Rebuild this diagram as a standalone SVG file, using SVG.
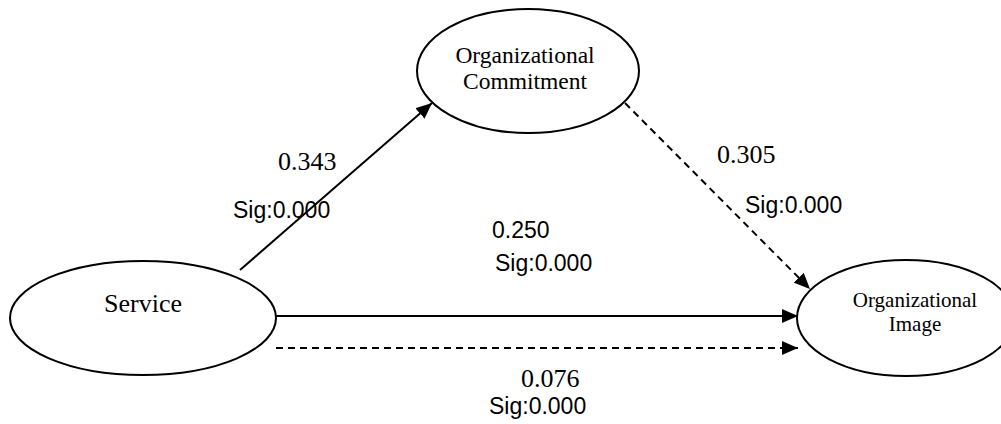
<svg xmlns="http://www.w3.org/2000/svg" width="1001" height="424" viewBox="0 0 1001 424">
  <style>
    .node { fill: #ffffff; stroke: #000000; stroke-width: 2; }
    .serif { font-family: "Liberation Serif", "Times New Roman", serif; fill: #000000; }
    .sans { font-family: "Liberation Sans", Arial, sans-serif; fill: #000000; font-size: 23px; }
    .edge { fill: none; stroke: #000000; stroke-width: 2; }
    .dashed { stroke-dasharray: 7 5; }
  </style>
  <defs>
    <marker id="arrow" markerUnits="userSpaceOnUse" markerWidth="16" markerHeight="14" viewBox="0 0 16 14" refX="16" refY="7" orient="auto">
      <path d="M0,0 L16,7 L0,14 Z" fill="#000000"/>
    </marker>
  </defs>

  <rect width="1001" height="424" fill="#ffffff"/>

  <!-- paths between the constructs -->
  <g id="connectors">
    <line class="edge" x1="240" y1="270" x2="432" y2="103" marker-end="url(#arrow)"/>
    <line class="edge dashed" x1="625" y1="103" x2="810" y2="289" marker-end="url(#arrow)"/>
    <line class="edge" x1="276" y1="316" x2="798" y2="316" marker-end="url(#arrow)"/>
    <line class="edge dashed" x1="276" y1="348" x2="798" y2="348" marker-end="url(#arrow)"/>
  </g>

  <g id="node-service">
    <ellipse class="node" cx="143" cy="318" rx="133" ry="57"/>
    <text class="serif" x="143" y="312" font-size="26" text-anchor="middle">Service</text>
  </g>

  <g id="node-commitment">
    <ellipse class="node" cx="528" cy="71" rx="111" ry="62"/>
    <text class="serif" x="525" y="63" font-size="23.5" text-anchor="middle">Organizational</text>
    <text class="serif" x="525" y="89" font-size="23.5" text-anchor="middle">Commitment</text>
  </g>

  <g id="node-image">
    <ellipse class="node" cx="906" cy="318" rx="109" ry="58"/>
    <text class="serif" x="915" y="307" font-size="21" text-anchor="middle">Organizational</text>
    <text class="serif" x="915" y="331" font-size="21" text-anchor="middle">Image</text>
  </g>

  <!-- path coefficients -->
  <g id="labels">
    <text class="serif" x="278" y="170" font-size="26">0.343</text>
    <text class="sans" x="233" y="218">Sig:0.000</text>
    <text class="serif" x="717" y="163" font-size="26">0.305</text>
    <text class="sans" x="745" y="213">Sig:0.000</text>
    <text class="sans" x="492" y="238">0.250</text>
    <text class="sans" x="495" y="271">Sig:0.000</text>
    <text class="serif" x="521" y="387" font-size="26">0.076</text>
    <text class="sans" x="489" y="414">Sig:0.000</text>
  </g>
</svg>
